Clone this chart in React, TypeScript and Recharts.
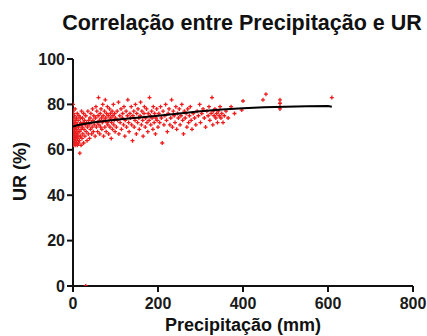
import React from "react";
import { ScatterChart, Scatter, XAxis, YAxis } from "recharts";

const FONT = "'Liberation Sans', Arial, Helvetica, sans-serif";

const chartTitle = "Correlação entre Precipitação e UR";
const xLabel = "Precipitação (mm)";
const yLabel = "UR (%)";
const xTicks = [0, 200, 400, 600, 800];
const yTicks = [0, 20, 40, 60, 80, 100];

// Observed points: [precipitation (mm), relative humidity (%)]
const observations: [number, number][] = [
  [0, 80], [0, 77], [0, 74], [0, 71], [0, 68], [0, 66], [0, 64], [1, 62], [1, 69], [1, 73],
  [1, 76], [2, 65], [2, 67], [2, 70], [2, 72], [3, 63], [3, 66], [3, 68], [3, 75], [4, 64],
  [4, 69], [4, 71], [5, 62], [5, 67], [5, 73], [5, 78], [6, 65], [6, 70], [7, 63], [7, 68],
  [7, 72], [8, 66], [8, 74], [9, 64], [9, 69], [10, 62], [10, 67], [10, 71], [10, 76],
  [11, 65], [12, 68], [12, 73], [13, 63], [13, 70], [14, 66], [14, 75], [15, 64], [15, 71],
  [16, 58.5], [16, 68], [17, 74], [18, 66], [18, 72], [19, 62], [19, 69], [20, 77], [20, 71],
  [21, 65], [22, 70], [22, 74], [23, 67], [24, 72], [25, 63], [25, 76], [26, 69], [27, 73],
  [28, 66], [29, 71], [30, 0], [30, 75], [31, 68], [32, 72], [33, 64], [34, 70], [35, 77],
  [36, 67], [37, 73], [38, 71], [39, 65], [40, 74], [41, 69], [42, 76], [43, 72], [44, 67],
  [45, 70], [46, 78], [47, 73], [48, 68], [49, 75], [50, 71],
  [52, 66], [53, 74], [54, 79], [55, 70], [56, 77], [57, 72], [58, 68], [59, 75], [60, 83],
  [61, 71], [62, 73], [63, 67], [64, 76], [65, 70], [66, 78], [67, 74], [68, 69], [69, 72],
  [70, 80], [71, 75], [72, 66], [73, 73], [74, 77], [75, 70], [76, 82], [77, 74], [78, 68],
  [79, 76], [80, 72], [81, 79], [82, 71], [83, 75], [84, 67], [85, 73], [86, 78], [87, 70],
  [88, 76], [89, 74], [90, 65], [91, 72], [92, 77], [93, 69], [94, 75], [95, 80], [96, 71],
  [97, 73], [98, 76], [99, 68], [100, 74],
  [102, 70], [104, 77], [105, 73], [107, 81], [108, 67], [110, 75], [111, 72], [113, 78],
  [114, 69], [116, 74], [117, 76], [119, 71], [120, 79], [122, 66], [123, 73], [125, 77],
  [126, 70], [128, 75], [129, 82], [131, 72], [132, 68], [134, 76], [135, 74], [137, 79],
  [138, 71], [140, 64], [141, 75], [143, 77], [144, 70], [146, 73], [147, 80], [149, 67],
  [150, 76], [152, 72], [153, 78], [155, 74], [156, 69], [158, 75], [159, 81], [161, 71],
  [162, 77], [164, 73], [165, 66], [167, 76], [168, 79], [170, 70], [171, 74], [173, 78],
  [174, 72], [176, 68], [177, 76], [179, 73], [180, 83], [182, 75], [183, 71], [185, 77],
  [186, 74], [188, 69], [189, 79], [191, 72], [192, 76], [194, 67], [195, 74], [197, 78],
  [198, 73], [200, 70],
  [202, 76], [204, 72], [206, 79], [208, 74], [210, 63], [212, 77], [214, 71], [216, 75],
  [218, 80], [220, 73], [222, 68], [224, 76], [226, 78], [228, 71], [230, 74], [232, 82],
  [234, 70], [236, 77], [238, 75], [240, 72], [242, 79], [244, 69], [246, 76], [248, 74],
  [250, 78], [252, 71], [254, 75], [256, 80], [258, 73], [260, 67], [262, 77], [264, 74],
  [266, 76], [268, 70], [270, 78], [272, 72], [274, 75], [276, 79], [278, 73], [280, 69],
  [283, 76], [286, 74], [289, 71], [292, 77], [295, 75], [298, 80],
  [300, 72], [303, 76], [306, 78], [309, 74], [312, 70], [315, 77], [318, 75], [320, 79],
  [322, 73], [325, 76], [327, 83], [329, 71], [330, 77], [332, 75], [334, 78], [336, 74],
  [338, 76], [340, 72], [342, 77], [344, 75], [346, 79], [348, 74], [350, 76], [353, 72],
  [356, 75], [360, 77], [365, 74], [372, 79], [380, 76], [397, 77.5], [400, 81.5],
  [447, 82], [454, 84.5], [487, 82], [487, 80.5], [487, 79], [487, 78], [609, 83],
];

// Fitted curve
const fitPrecip = [0, 10, 25, 50, 75, 100, 150, 200, 250, 300, 350, 400, 450, 500, 550, 600, 609];
const fitUR = [70.3, 70.8, 71.4, 72.1, 72.7, 73.2, 74.1, 75.0, 76.0, 77.0, 77.7, 78.3, 78.7, 79.0, 79.2, 79.3, 79.0];

const pointData = observations.map(([x, y]) => ({ x, y }));
const fitData = fitPrecip.map((x, i) => ({ x, y: fitUR[i] }));

const RedCross = (props: any) => {
  const { cx, cy } = props;
  if (cx == null || cy == null) return <g />;
  return (
    <path
      d={`M${cx - 2},${cy}h4M${cx},${cy - 2}v4`}
      stroke="#ee1c1c"
      strokeWidth={1.3}
      fill="none"
    />
  );
};

const tickStyle = { fill: "#1a1a1a", fontSize: 16, fontWeight: "bold", fontFamily: FONT };

export default function App() {
  return (
    <div style={{ position: "absolute", left: 0, top: 0, width: 427, height: 336, background: "#fff" }}>
      <div
        style={{
          position: "absolute",
          left: 242,
          top: 12,
          transform: "translateX(-50%)",
          whiteSpace: "nowrap",
          fontFamily: FONT,
          fontWeight: "bold",
          fontSize: 21.5,
          lineHeight: "22px",
          color: "#111",
        }}
      >
        {chartTitle}
      </div>
      <ScatterChart
        width={427}
        height={336}
        margin={{ top: 59, right: 14, bottom: 0, left: 0 }}
        style={{ position: "absolute", left: 0, top: 0 }}
      >
        <XAxis
          type="number"
          dataKey="x"
          domain={[0, 800]}
          ticks={xTicks}
          height={50}
          tickSize={6}
          tickMargin={6}
          axisLine={{ stroke: "#111", strokeWidth: 2 }}
          tickLine={{ stroke: "#111", strokeWidth: 2 }}
          tick={tickStyle}
          allowDataOverflow
          label={{
            content: (p: any) => {
              const vb = p.viewBox || {};
              return (
                <text
                  x={vb.x + vb.width / 2}
                  y={331}
                  textAnchor="middle"
                  fontFamily={FONT}
                  fontWeight="bold"
                  fontSize={18}
                  fill="#111"
                >
                  {xLabel}
                </text>
              );
            },
          }}
        />
        <YAxis
          type="number"
          dataKey="y"
          domain={[0, 100]}
          ticks={yTicks}
          width={73}
          tickSize={6}
          tickMargin={2}
          axisLine={{ stroke: "#111", strokeWidth: 2 }}
          tickLine={{ stroke: "#111", strokeWidth: 2 }}
          tick={tickStyle}
          allowDataOverflow
          label={{
            content: (p: any) => {
              const vb = p.viewBox || {};
              const cx = 20;
              const cy = vb.y + vb.height / 2 - 1;
              return (
                <text
                  x={cx}
                  y={cy}
                  transform={`rotate(-90, ${cx}, ${cy})`}
                  textAnchor="middle"
                  dominantBaseline="central"
                  fontFamily={FONT}
                  fontWeight="bold"
                  fontSize={18}
                  fill="#111"
                >
                  {yLabel}
                </text>
              );
            },
          }}
        />
        <Scatter data={pointData} shape={RedCross} isAnimationActive={false} />
        <Scatter
          data={fitData}
          line={{ stroke: "#000", strokeWidth: 2 }}
          lineType="joint"
          shape={() => <g />}
          isAnimationActive={false}
        />
      </ScatterChart>
    </div>
  );
}
